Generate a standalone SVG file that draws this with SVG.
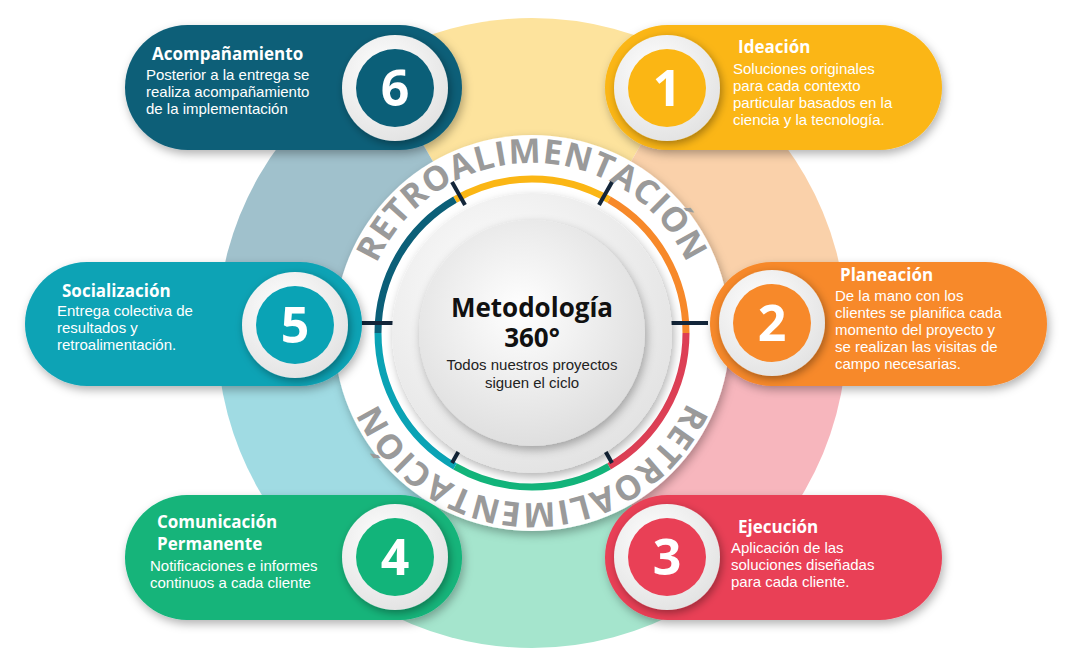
<svg xmlns="http://www.w3.org/2000/svg" width="1090" height="666" viewBox="0 0 1090 666">
<defs>
<filter id="sh" x="-20%" y="-20%" width="140%" height="150%"><feDropShadow dx="2" dy="4" stdDeviation="5" flood-color="#000" flood-opacity="0.3"/></filter>
<filter id="sh2" x="-30%" y="-30%" width="160%" height="160%"><feDropShadow dx="2" dy="3" stdDeviation="4" flood-color="#000" flood-opacity="0.35"/></filter>
<radialGradient id="disc" cx="0.45" cy="0.4" r="0.65"><stop offset="0" stop-color="#ffffff"/><stop offset="1" stop-color="#dcdcdc"/></radialGradient>
<radialGradient id="ring" cx="0.4" cy="0.35" r="0.7"><stop offset="0" stop-color="#ffffff"/><stop offset="1" stop-color="#e2e2e2"/></radialGradient>
<path id="tp" d="M362,333 A170,170 0 1 1 702,333 A170,170 0 1 1 362,333"/>
</defs>
<style>
.t{font-family:"Open Sans","Liberation Sans",sans-serif;font-weight:700;font-size:17px;fill:#fff}
.d{font-family:"Liberation Sans",Arial,sans-serif;font-size:15px;fill:#fff}
.n{font-family:"Open Sans","Liberation Sans",sans-serif;font-weight:700;font-size:50px;fill:#fff;text-anchor:middle}
.arc{font-family:"Open Sans","Liberation Sans",sans-serif;font-weight:700;font-size:34px;fill:#9a9a9a;letter-spacing:1px}
.tick{stroke:#13263a;stroke-width:4}
</style>
<g id="outer-ring">
<path d="M532,333 L374.5,60.2 A315,315 0 0 1 689.5,60.2 Z" fill="#fde39d"/>
<path d="M532,333 L689.5,60.2 A315,315 0 0 1 847,333 Z" fill="#fad1aa"/>
<path d="M532,333 L847,333 A315,315 0 0 1 689.5,605.8 Z" fill="#f7b6bd"/>
<path d="M532,333 L689.5,605.8 A315,315 0 0 1 374.5,605.8 Z" fill="#a5e5cd"/>
<path d="M532,333 L374.5,605.8 A315,315 0 0 1 217,333 Z" fill="#a0dbe3"/>
<path d="M532,333 L217,333 A315,315 0 0 1 374.5,60.2 Z" fill="#a0c1cc"/>
</g>
<circle cx="532" cy="333" r="198" fill="#fff" filter="url(#sh)"/>
<text class="arc"><textPath href="#tp" startOffset="25%" text-anchor="middle">RETROALIMENTACIÓN</textPath></text>
<text class="arc"><textPath href="#tp" startOffset="75%" text-anchor="middle">RETROALIMENTACIÓN</textPath></text>
<g id="connectors" fill="none" stroke-width="7">
<path d="M455,199.6 A154,154 0 0 1 609,199.6" stroke="#fbb614"/>
<path d="M609,199.6 A154,154 0 0 1 686,333" stroke="#f7892a"/>
<path d="M686,333 A154,154 0 0 1 609,466.4" stroke="#dd3f55"/>
<path d="M609,466.4 A154,154 0 0 1 455,466.4" stroke="#12b47a"/>
<path d="M455,466.4 A154,154 0 0 1 378,333" stroke="#0aa3b5"/>
<path d="M378,333 A154,154 0 0 1 455,199.6" stroke="#0b5f78"/>
<line class="tick" x1="361" y1="323" x2="397" y2="323"/>
<line class="tick" x1="667" y1="323" x2="708" y2="323"/>
<line class="tick" x1="452" y1="182" x2="465" y2="205"/>
<line class="tick" x1="612" y1="182" x2="599" y2="205"/>
<line class="tick" x1="465" y1="440" x2="452" y2="463"/>
<line class="tick" x1="599" y1="440" x2="612" y2="463"/>
</g>
<circle cx="532" cy="333" r="140" fill="url(#ring)" filter="url(#sh)"/>
<circle cx="532" cy="333" r="113" fill="url(#disc)" filter="url(#sh)"/>
<g id="center" font-family="'Open Sans','Liberation Sans',sans-serif" text-anchor="middle">
<text x="532" y="317" font-size="26" font-weight="700" fill="#111">Metodología</text>
<text x="532" y="347" font-size="26" font-weight="700" fill="#111">360°</text>
<text x="532" y="370" font-size="15" fill="#222" font-family="'Liberation Sans',Arial,sans-serif">Todos nuestros proyectos</text>
<text x="532" y="388" font-size="15" fill="#222" font-family="'Liberation Sans',Arial,sans-serif">siguen el ciclo</text>
</g>
<g id="node6">
<rect x="125" y="25" width="337" height="125" rx="62.5" fill="#0b5f78" filter="url(#sh)"/>
<circle cx="395" cy="88" r="53" fill="url(#ring)" filter="url(#sh2)"/>
<circle cx="395" cy="88" r="39" fill="#0b5f78"/>
<text class="n" x="395" y="106">6</text>
<text class="t" x="152" y="60">Acompañamiento</text>
<text class="d" x="146" y="80">Posterior a la entrega se</text>
<text class="d" x="146" y="97">realiza acompañamiento</text>
<text class="d" x="146" y="114">de la implementación</text>
</g>
<g id="node1">
<rect x="605" y="25" width="337" height="125" rx="62.5" fill="#fbb614" filter="url(#sh)"/>
<circle cx="667" cy="88" r="53" fill="url(#ring)" filter="url(#sh2)"/>
<circle cx="667" cy="88" r="39" fill="#fbb614"/>
<text class="n" x="667" y="106">1</text>
<text class="t" x="738" y="53">Ideación</text>
<text class="d" x="733" y="74">Soluciones originales</text>
<text class="d" x="733" y="91">para cada contexto</text>
<text class="d" x="733" y="108">particular basados en la</text>
<text class="d" x="733" y="125">ciencia y la tecnología.</text>
</g>
<g id="node2">
<rect x="710" y="262" width="337" height="124" rx="62" fill="#f7892a" filter="url(#sh)"/>
<circle cx="772" cy="323" r="53" fill="url(#ring)" filter="url(#sh2)"/>
<circle cx="772" cy="323" r="39" fill="#f7892a"/>
<text class="n" x="772" y="341">2</text>
<text class="t" x="840" y="281">Planeación</text>
<text class="d" x="835" y="301">De la mano con los</text>
<text class="d" x="835" y="318">clientes se planifica cada</text>
<text class="d" x="835" y="335">momento del proyecto y</text>
<text class="d" x="835" y="352">se realizan las visitas de</text>
<text class="d" x="835" y="369">campo necesarias.</text>
</g>
<g id="node5">
<rect x="25" y="262" width="337" height="124" rx="62" fill="#0aa3b5" filter="url(#sh)"/>
<circle cx="295" cy="325" r="53" fill="url(#ring)" filter="url(#sh2)"/>
<circle cx="295" cy="325" r="39" fill="#0aa3b5"/>
<text class="n" x="295" y="343">5</text>
<text class="t" x="62" y="297">Socialización</text>
<text class="d" x="57" y="316">Entrega colectiva de</text>
<text class="d" x="57" y="333">resultados y</text>
<text class="d" x="57" y="350">retroalimentación.</text>
</g>
<g id="node4">
<rect x="125" y="495" width="337" height="125" rx="62.5" fill="#12b47a" filter="url(#sh)"/>
<circle cx="395" cy="557" r="53" fill="url(#ring)" filter="url(#sh2)"/>
<circle cx="395" cy="557" r="39" fill="#12b47a"/>
<text class="n" x="395" y="575">4</text>
<text class="t" x="157" y="528">Comunicación</text>
<text class="t" x="157" y="550">Permanente</text>
<text class="d" x="150" y="571">Notificaciones e informes</text>
<text class="d" x="150" y="588">continuos a cada cliente</text>
</g>
<g id="node3">
<rect x="605" y="495" width="337" height="125" rx="62.5" fill="#e94056" filter="url(#sh)"/>
<circle cx="667" cy="557" r="53" fill="url(#ring)" filter="url(#sh2)"/>
<circle cx="667" cy="557" r="39" fill="#e94056"/>
<text class="n" x="667" y="575">3</text>
<text class="t" x="738" y="533">Ejecución</text>
<text class="d" x="731" y="553">Aplicación de las</text>
<text class="d" x="731" y="570">soluciones diseñadas</text>
<text class="d" x="731" y="587">para cada cliente.</text>
</g>
</svg>
